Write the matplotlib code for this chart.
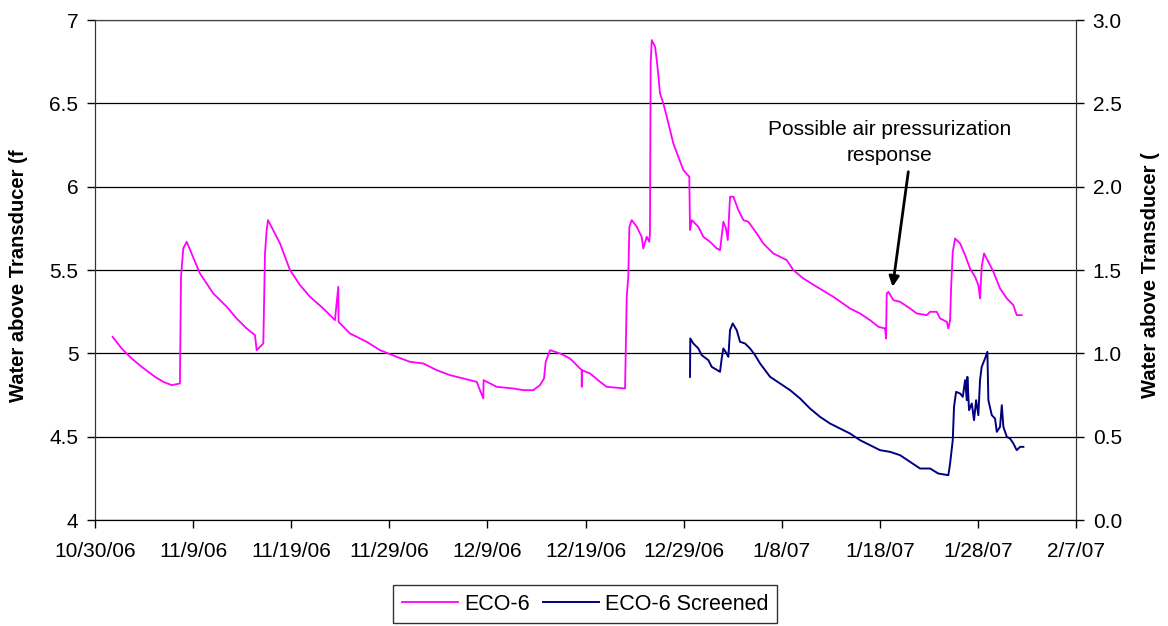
import pandas as pd
import matplotlib.pyplot as plt

plt.rcParams['font.family'] = ['Liberation Sans', 'DejaVu Sans']

# day offsets from 10/30/06 and water levels
start = pd.Timestamp('2006-10-30')

eco6_days = [1.80, 2.72, 3.74, 4.76, 6.12, 6.96, 7.82, 8.66, 8.77, 9.00, 9.35,
             10.70, 12.06, 13.43, 14.44, 15.46, 16.31, 16.48, 16.82, 17.16, 17.33,
             17.50, 17.64, 18.86, 19.88, 20.90, 21.92, 23.27, 24.46, 24.80, 24.83,
             25.99, 27.70, 29.05, 30.75, 32.11, 33.47, 34.83, 36.19, 37.54, 38.91,
             39.58, 39.61, 40.95, 42.64, 43.66, 44.68, 45.36, 45.77, 45.94, 46.38,
             47.40, 48.42, 49.10, 49.61, 49.62, 49.64, 50.46, 51.48, 52.16, 54.03,
             54.20, 54.36, 54.47, 54.71, 55.22, 55.72, 55.89, 56.24, 56.50, 56.57,
             56.64, 56.75, 57.09, 57.26, 57.42, 57.59, 57.93, 58.28, 58.61, 58.95,
             59.46, 59.97, 60.58, 60.65, 60.83, 61.50, 62.01, 62.69, 63.37, 63.71,
             64.05, 64.32, 64.50, 64.73, 65.07, 65.58, 66.09, 66.60, 67.45, 68.12,
             69.14, 70.51, 71.18, 72.20, 73.57, 75.26, 76.96, 77.98, 79.00, 79.85,
             80.53, 80.63, 80.70, 80.87, 81.38, 82.06, 83.08, 83.76, 84.78, 85.12,
             85.80, 86.14, 86.82, 86.98, 87.16, 87.26, 87.43, 87.67, 88.18, 88.69,
             89.19, 89.70, 90.04, 90.21, 90.38, 90.62, 91.06, 91.57, 92.25, 92.94,
             93.61, 93.95, 94.46]
eco6_level = [5.10, 5.03, 4.97, 4.92, 4.86, 4.83, 4.81, 4.82, 5.46, 5.63, 5.67,
              5.48, 5.36, 5.28, 5.21, 5.15, 5.11, 5.02, 5.04, 5.06, 5.60,
              5.74, 5.80, 5.66, 5.50, 5.41, 5.34, 5.27, 5.20, 5.40, 5.19,
              5.12, 5.07, 5.02, 4.98, 4.95, 4.94, 4.90, 4.87, 4.85, 4.83,
              4.73, 4.84, 4.80, 4.79, 4.78, 4.78, 4.81, 4.85, 4.95, 5.02,
              5.00, 4.97, 4.93, 4.90, 4.80, 4.90, 4.88, 4.83, 4.80, 4.79,
              5.34, 5.46, 5.76, 5.80, 5.76, 5.70, 5.63, 5.70, 5.67, 5.72,
              6.74, 6.88, 6.84, 6.76, 6.67, 6.56, 6.50, 6.42, 6.34, 6.26,
              6.18, 6.10, 6.06, 5.74, 5.80, 5.76, 5.70, 5.67, 5.63, 5.62,
              5.79, 5.75, 5.68, 5.94, 5.94, 5.86, 5.80, 5.79, 5.72, 5.66,
              5.60, 5.56, 5.50, 5.45, 5.40, 5.34, 5.27, 5.24, 5.20, 5.16,
              5.15, 5.09, 5.36, 5.37, 5.32, 5.31, 5.27, 5.24, 5.23, 5.25,
              5.25, 5.21, 5.19, 5.15, 5.20, 5.39, 5.61, 5.69, 5.66, 5.59,
              5.51, 5.46, 5.41, 5.33, 5.52, 5.60, 5.55, 5.49, 5.39, 5.33,
              5.29, 5.23, 5.23]

screened_days = [60.65, 60.68, 60.99, 61.50, 61.84, 62.52, 62.86, 63.71, 63.88,
                 64.05, 64.39, 64.56, 64.73, 65.00, 65.41, 65.75, 66.26, 66.77,
                 67.28, 67.79, 68.81, 69.83, 70.85, 71.87, 72.88, 73.90, 74.92,
                 75.94, 76.96, 77.98, 79.00, 80.02, 81.04, 82.06, 83.08, 84.10,
                 85.12, 85.96, 86.98, 87.16, 87.43, 87.56, 87.77, 88.18, 88.45,
                 88.69, 88.86, 88.92, 89.09, 89.37, 89.60, 89.81, 90.04, 90.21,
                 90.38, 90.72, 90.96, 91.06, 91.41, 91.74, 91.92, 92.25, 92.43,
                 92.59, 92.94, 93.27, 93.61, 93.95, 94.29, 94.63]
screened_level = [0.86, 1.09, 1.06, 1.03, 0.99, 0.96, 0.92, 0.89, 0.97,
                  1.03, 1.00, 0.98, 1.14, 1.18, 1.14, 1.07, 1.06, 1.03,
                  0.99, 0.94, 0.86, 0.82, 0.78, 0.73, 0.67, 0.62, 0.58,
                  0.55, 0.52, 0.48, 0.45, 0.42, 0.41, 0.39, 0.35, 0.31,
                  0.31, 0.28, 0.27, 0.34, 0.48, 0.68, 0.77, 0.76, 0.74,
                  0.84, 0.72, 0.86, 0.66, 0.70, 0.60, 0.72, 0.63, 0.84,
                  0.92, 0.97, 1.01, 0.72, 0.63, 0.61, 0.53, 0.56, 0.69,
                  0.56, 0.50, 0.49, 0.46, 0.42, 0.44, 0.44]

tick_dates = ['2006-10-30', '2006-11-09', '2006-11-19', '2006-11-29', '2006-12-09',
              '2006-12-19', '2006-12-29', '2007-01-08', '2007-01-18', '2007-01-28',
              '2007-02-07']
tick_labels = ['10/30/06', '11/9/06', '11/19/06', '11/29/06', '12/9/06', '12/19/06',
               '12/29/06', '1/8/07', '1/18/07', '1/28/07', '2/7/07']

eco6_t = start + pd.to_timedelta(eco6_days, unit='D')
screened_t = start + pd.to_timedelta(screened_days, unit='D')
ticks = pd.to_datetime(tick_dates)

fig = plt.figure(figsize=(11.68, 6.26), dpi=100)
ax = fig.add_axes([0.0813, 0.169, 0.8400, 0.799])
ax2 = ax.twinx()

l1, = ax.plot(eco6_t, eco6_level, color='#FF00FF', lw=1.3, label='ECO-6')
l2, = ax2.plot(screened_t, screened_level, color='#000080', lw=1.4, label='ECO-6 Screened')

ax.set_xlim(ticks[0], ticks[-1])
ax.set_ylim(4, 7)
ax2.set_ylim(0, 3)
ax.set_yticks([4, 4.5, 5, 5.5, 6, 6.5, 7])
ax.set_yticklabels(['4', '4.5', '5', '5.5', '6', '6.5', '7'])
ax2.set_yticks([0, 0.5, 1, 1.5, 2, 2.5, 3])
ax2.set_yticklabels(['0.0', '0.5', '1.0', '1.5', '2.0', '2.5', '3.0'])
ax.set_xticks(ticks)
ax.set_xticklabels(tick_labels)

ax.grid(axis='y', color='black', lw=0.9)
ax.set_axisbelow(True)
for a in (ax, ax2):
    a.tick_params(labelsize=15, length=6, width=1, direction='out', colors='black')
    a.spines['top'].set_color('#444444')
    a.spines['left'].set_color('#333333')
    a.spines['right'].set_color('#333333')
ax.tick_params(axis='x', pad=10)
ax.tick_params(axis='y', pad=6)
ax2.tick_params(axis='y', pad=6)

fig.text(0.016, 0.56, 'Water above Transducer (f', rotation=90, fontsize=14.5,
         fontweight='bold', ha='center', va='center')
fig.text(0.985, 0.56, 'Water above Transducer (', rotation=90, fontsize=14.5,
         fontweight='bold', ha='center', va='center')

# annotation text and slanted arrow
ax.text(start + pd.Timedelta(days=81.0), 6.13, 'Possible air pressurization\nresponse',
        ha='center', va='bottom', fontsize=15, linespacing=1.45)
ax.annotate('', xy=(start + pd.Timedelta(days=81.3), 5.40),
            xytext=(start + pd.Timedelta(days=82.9), 6.09),
            arrowprops=dict(arrowstyle='-|>', color='black', lw=2,
                            mutation_scale=15, shrinkA=0, shrinkB=0))

leg = fig.legend(handles=[l1, l2], loc='center', bbox_to_anchor=(0.501, 0.035),
                 ncol=2, fontsize=15.5, frameon=True, fancybox=False,
                 handlelength=2.6, handletextpad=0.3, columnspacing=0.6,
                 borderpad=0.4)
leg.get_frame().set_edgecolor('black')
leg.get_frame().set_linewidth(1)

fig.savefig('out.png', dpi=100)
